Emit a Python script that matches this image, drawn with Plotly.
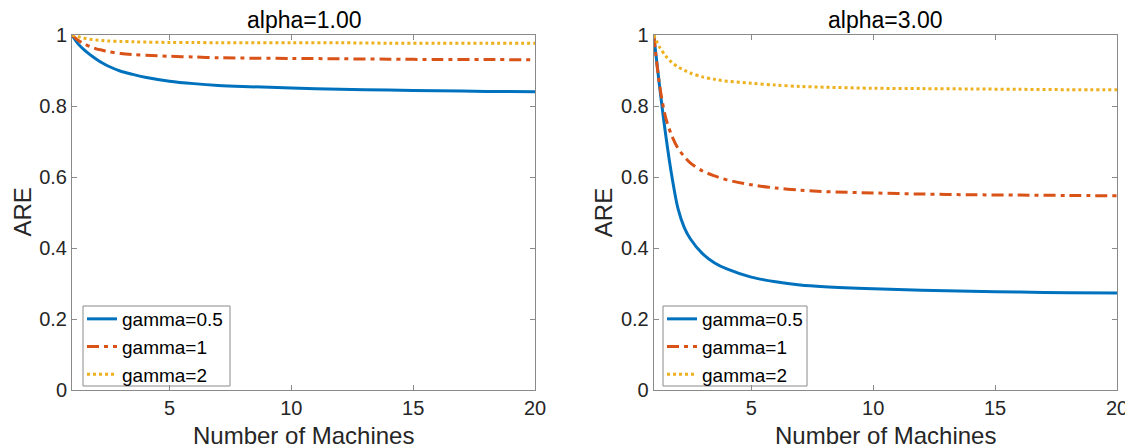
import plotly.graph_objects as go

machines = [1, 1.25, 1.5, 1.75, 2, 2.25, 2.5, 3, 3.5, 4, 5, 6, 7, 8, 10, 12, 14, 16, 18, 20]

# alpha = 1.00
a1_g05 = [1.0, 0.975, 0.958, 0.944, 0.932, 0.921, 0.912, 0.898, 0.889, 0.881, 0.870, 0.863, 0.858, 0.855, 0.851, 0.847, 0.845, 0.843, 0.841, 0.840]
a1_g1 = [1.0, 0.985, 0.975, 0.967, 0.961, 0.957, 0.953, 0.948, 0.945, 0.943, 0.940, 0.938, 0.936, 0.935, 0.934, 0.933, 0.932, 0.931, 0.931, 0.930]
a1_g2 = [1.0, 0.995, 0.991, 0.988, 0.986, 0.9845, 0.983, 0.982, 0.981, 0.980, 0.979, 0.979, 0.978, 0.978, 0.978, 0.978, 0.977, 0.977, 0.977, 0.977]

# alpha = 3.00
a3_g05 = [1.0, 0.85, 0.715, 0.60, 0.51, 0.458, 0.426, 0.384, 0.358, 0.341, 0.318, 0.305, 0.296, 0.291, 0.285, 0.281, 0.278, 0.276, 0.274, 0.273]
a3_g1 = [1.0, 0.855, 0.765, 0.715, 0.68, 0.658, 0.64, 0.617, 0.603, 0.592, 0.578, 0.569, 0.563, 0.559, 0.555, 0.552, 0.550, 0.549, 0.548, 0.547]
a3_g2 = [1.0, 0.965, 0.94, 0.922, 0.91, 0.901, 0.893, 0.882, 0.875, 0.87, 0.864, 0.859, 0.855, 0.853, 0.850, 0.849, 0.848, 0.847, 0.846, 0.846]

series_names = ["gamma=0.5", "gamma=1", "gamma=2"]
titles = ["alpha=1.00", "alpha=3.00"]
x_label = "Number of Machines"
y_label = "ARE"
x_ticks = [5, 10, 15, 20]
y_ticks = [0, 0.2, 0.4, 0.6, 0.8, 1]
y_tick_text = ["0", "0.2", "0.4", "0.6", "0.8", "1"]

colors = ["#0072BD", "#D95319", "#EDB120"]
dashes = ["solid", "12px,5px,4px,5px", "dot"]

# page body has an 8px margin: figure origin sits at (8, 8) of the window
OFF = 8
W, H = 1133 - OFF, 448 - OFF
FONT = "Liberation Sans, Arial, Helvetica, sans-serif"
TXT = "#262626"
AX = "#8a8a8a"


def px(xw):
    return (xw - OFF) / W


def py(yw):
    return 1 - (yw - OFF) / H


fig = go.Figure()

panels = [
    (1, [a1_g05, a1_g1, a1_g2], "legend"),
    (2, [a3_g05, a3_g1, a3_g2], "legend2"),
]
for idx, data, leg in panels:
    xa = "x" if idx == 1 else "x2"
    ya = "y" if idx == 1 else "y2"
    for ys, name, c, d in zip(data, series_names, colors, dashes):
        fig.add_trace(go.Scatter(
            x=machines, y=ys, mode="lines", name=name,
            line=dict(color=c, width=3, dash=d, shape="spline", smoothing=0.9),
            xaxis=xa, yaxis=ya, legend=leg,
        ))

x_left = [72, 653.7]
x_right = [535, 1117]
x_domains = [[px(x_left[i]), px(x_right[i])] for i in range(2)]
y_domain = [py(390), py(35)]

axis_common = dict(
    showline=True, linecolor=AX, linewidth=1, mirror="allticks",
    ticks="inside", ticklen=5, tickcolor=AX, tickwidth=1,
    showgrid=False, zeroline=False, automargin=False,
    tickfont=dict(family=FONT, size=20, color=TXT),
)

layout = dict(
    width=W, height=H,
    margin=dict(l=0, r=0, t=0, b=0, autoexpand=False),
    paper_bgcolor="white", plot_bgcolor="white",
    showlegend=True,
)
for i, key in enumerate(["", "2"]):
    layout["xaxis" + key] = dict(
        axis_common, domain=x_domains[i], range=[1, 20],
        tickvals=x_ticks, anchor="y" + key,
    )
    layout["yaxis" + key] = dict(
        axis_common, domain=y_domain, range=[0, 1],
        tickvals=y_ticks, ticktext=y_tick_text, anchor="x" + key,
    )

legend_box_x = [(83, 230), (663, 807)]
legend_box_y = (306, 386)

legend_common = dict(
    bgcolor="rgba(0,0,0,0)", borderwidth=0,
    font=dict(family=FONT, size=19, color="black"),
    xanchor="left", yanchor="middle", tracegroupgap=0, itemwidth=30,
)
ymid = py((legend_box_y[0] + legend_box_y[1]) / 2 + 1)
layout["legend"] = dict(legend_common, x=px(legend_box_x[0][0] - 1), y=ymid)
layout["legend2"] = dict(legend_common, x=px(legend_box_x[1][0] - 1), y=ymid)

shapes = []
for bx0, bx1 in legend_box_x:
    shapes.append(dict(
        type="rect", xref="paper", yref="paper",
        x0=px(bx0), x1=px(bx1), y0=py(legend_box_y[1]), y1=py(legend_box_y[0]),
        line=dict(color=AX, width=1), fillcolor="white", layer="below",
    ))
layout["shapes"] = shapes

annotations = []
for i, t in enumerate(titles):
    cx = (x_domains[i][0] + x_domains[i][1]) / 2
    annotations.append(dict(
        text=t, x=cx, y=py(20),
        xref="paper", yref="paper", xanchor="center", yanchor="middle",
        showarrow=False, font=dict(family=FONT, size=23, color="black"),
    ))
    annotations.append(dict(
        text=x_label, x=cx, y=py(435),
        xref="paper", yref="paper", xanchor="center", yanchor="middle",
        showarrow=False, font=dict(family=FONT, size=24, color=TXT),
    ))
    annotations.append(dict(
        text=y_label, x=px(x_left[i] - 50), y=(y_domain[0] + y_domain[1]) / 2,
        xref="paper", yref="paper", xanchor="center", yanchor="middle", textangle=-90,
        showarrow=False, font=dict(family=FONT, size=24, color=TXT),
    ))
layout["annotations"] = annotations

fig.update_layout(**layout)
fig.write_html("out.html")
